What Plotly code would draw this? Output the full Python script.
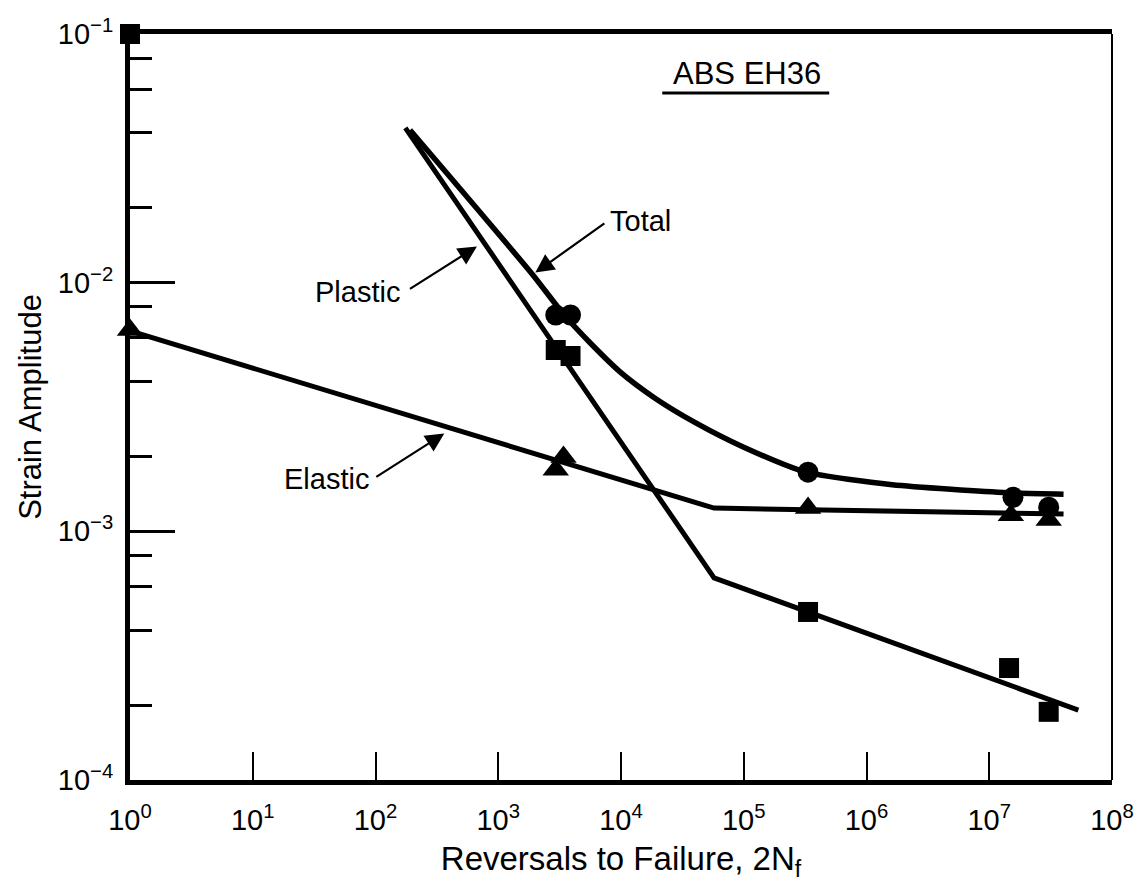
import numpy as np
import plotly.graph_objects as go

# ---- data ----
plastic_x = [1, 2940, 3880, 3.34e5, 1.45e7, 3.05e7]
plastic_y = [0.1, 5.36e-3, 5.07e-3, 4.74e-4, 2.82e-4, 1.88e-4]
total_x = [2940, 3880, 3.34e5, 1.56e7, 3.05e7]
total_y = [7.41e-3, 7.41e-3, 1.73e-3, 1.37e-3, 1.25e-3]
elastic_x = [1, 2940, 3400, 3.34e5, 1.5e7, 3.05e7]
elastic_y = [6.45e-3, 1.77e-3, 1.99e-3, 1.24e-3, 1.16e-3, 1.11e-3]

plastic_fit_x = [175, 5.73e4, 5.32e7]
plastic_fit_y = [4.19e-2, 6.5e-4, 1.91e-4]
elastic_fit_x = [1, 5.73e4, 4.03e7]
elastic_fit_y = [6.4e-3, 1.24e-3, 1.175e-3]
total_fit_x = [191, 1915, 3340, 5620, 9820, 1.88e4, 3.96e4, 1.0e5, 3.22e5, 1.62e6, 1.42e7, 4.03e7]
total_fit_y = [4.11e-2, 1.074e-2, 7.55e-3, 5.72e-3, 4.38e-3, 3.44e-3, 2.75e-3, 2.18e-3,
               1.73e-3, 1.54e-3, 1.43e-3, 1.41e-3]

x_tick_vals = [1, 1e1, 1e2, 1e3, 1e4, 1e5, 1e6, 1e7, 1e8]
x_tick_text = ["10<sup>%d</sup>" % i for i in range(9)]
y_tick_vals = [1e-4, 1e-3, 1e-2, 1e-1]
y_tick_text = ["10<sup>\u2212%d</sup>" % i for i in (4, 3, 2, 1)]
y_minor_vals = [m * d for d in (1e-4, 1e-3, 1e-2) for m in (2, 4, 6, 8)]

FONT = "Liberation Sans"
BLACK = "#000000"

fig = go.Figure()

# fitted lines
fig.add_trace(go.Scatter(x=plastic_fit_x, y=plastic_fit_y, mode="lines",
                         line=dict(color=BLACK, width=5), showlegend=False, cliponaxis=False))
fig.add_trace(go.Scatter(x=elastic_fit_x, y=elastic_fit_y, mode="lines",
                         line=dict(color=BLACK, width=5), showlegend=False, cliponaxis=False))
fig.add_trace(go.Scatter(x=total_fit_x, y=total_fit_y, mode="lines",
                         line=dict(color=BLACK, width=5.5, shape="spline", smoothing=0.6),
                         showlegend=False, cliponaxis=False))

# data markers
fig.add_trace(go.Scatter(x=plastic_x, y=plastic_y, mode="markers",
                         marker=dict(symbol="square", size=20, color=BLACK),
                         showlegend=False, cliponaxis=False))
fig.add_trace(go.Scatter(x=total_x, y=total_y, mode="markers",
                         marker=dict(symbol="circle", size=21, color=BLACK),
                         showlegend=False, cliponaxis=False))
fig.add_trace(go.Scatter(x=elastic_x, y=elastic_y, mode="markers",
                         marker=dict(symbol="triangle-up", size=23, color=BLACK),
                         showlegend=False, cliponaxis=False))

L = np.log10
ARW = dict(text="", showarrow=True, arrowhead=2, arrowsize=1.7, arrowwidth=2.2,
           arrowcolor=BLACK, standoff=3)
annotations = [
    # arrows
    dict(x=L(1915), y=L(0.0108), ax=73, ay=-52, **ARW),
    dict(x=2.847, y=-1.848, ax=-71, ay=45, **ARW),
    dict(x=2.581, y=-2.600, ax=-72, ay=46, **ARW),
    # labels
    dict(x=3.895, y=-1.752, text="Total", showarrow=False, xanchor="left",
         font=dict(family=FONT, size=29, color=BLACK)),
    dict(x=2.218, y=-2.037, text="Plastic", showarrow=False, xanchor="right",
         font=dict(family=FONT, size=29, color=BLACK)),
    dict(x=1.960, y=-2.789, text="Elastic", showarrow=False, xanchor="right",
         font=dict(family=FONT, size=29, color=BLACK)),
    dict(x=5.03, y=-1.157, text="ABS EH36", showarrow=False,
         font=dict(family=FONT, size=31, color=BLACK)),
]

shapes = [
    # right frame (thin)
    dict(type="line", xref="paper", yref="paper", x0=1, x1=1, y0=0, y1=1,
         line=dict(color=BLACK, width=2)),
    # underline of title
    dict(type="line", xref="paper", yref="paper", x0=0.542, x1=0.712, y0=0.921, y1=0.921,
         line=dict(color=BLACK, width=3)),
]

fig.update_layout(
    width=1146, height=892, autosize=False,
    margin=dict(l=130, r=24, t=34, b=112),
    plot_bgcolor="white", paper_bgcolor="white",
    font=dict(family=FONT, color=BLACK),
    annotations=annotations, shapes=shapes,
    xaxis=dict(
        type="log", range=[0, 8], showgrid=False, zeroline=False,
        showline=True, linewidth=5, linecolor=BLACK, mirror=True,
        ticks="inside", ticklen=28, tickwidth=2, tickcolor=BLACK,
        tickmode="array", tickvals=x_tick_vals, ticktext=x_tick_text,
        tickfont=dict(family=FONT, size=29, color=BLACK), ticklabelstandoff=10,
        title=dict(text="Reversals to Failure, 2N<sub>f</sub>",
                   font=dict(family=FONT, size=33, color=BLACK), standoff=14),
    ),
    yaxis=dict(
        type="log", range=[-4, -0.99999], showgrid=False, zeroline=False,
        showline=True, linewidth=5, linecolor=BLACK, mirror=False,
        ticks="inside", ticklen=45, tickwidth=2.5, tickcolor=BLACK,
        tickmode="array", tickvals=y_tick_vals, ticktext=y_tick_text,
        tickfont=dict(family=FONT, size=29, color=BLACK), ticklabelstandoff=6,
        minor=dict(ticks="inside", ticklen=22, tickwidth=2.5, tickcolor=BLACK,
                   tickvals=y_minor_vals, showgrid=False),
        title=dict(text="Strain Amplitude",
                   font=dict(family=FONT, size=31, color=BLACK), standoff=8),
    ),
)

fig.write_html("out.html")
